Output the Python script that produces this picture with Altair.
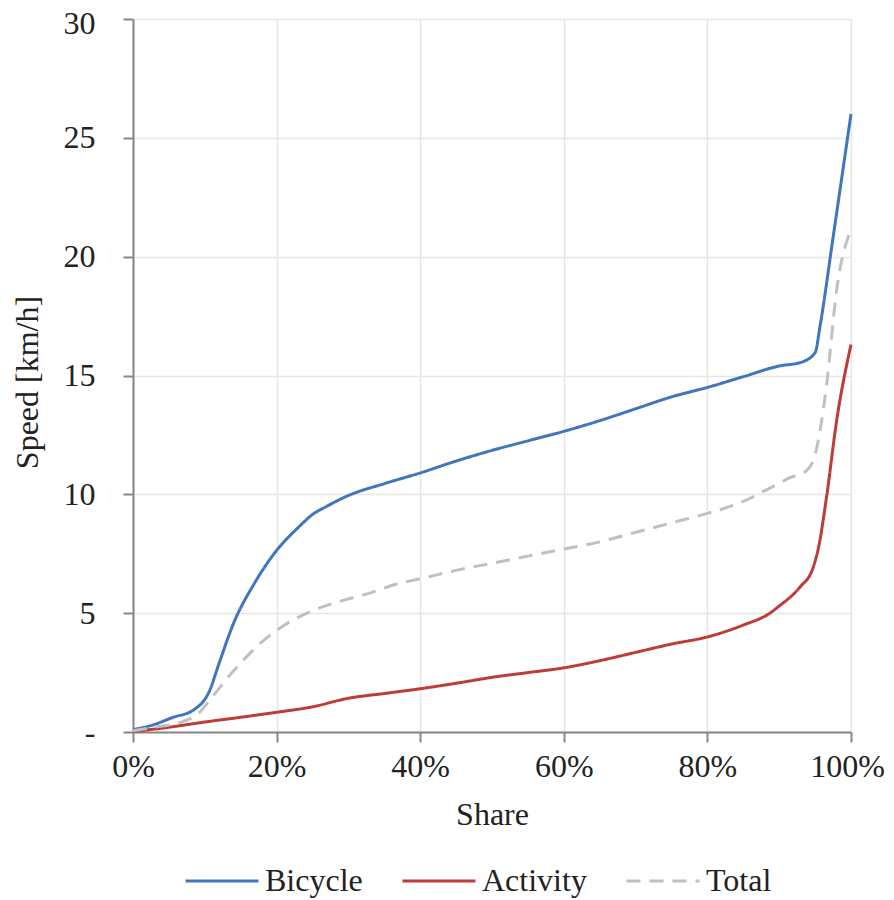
import altair as alt
import pandas as pd

series_names = ["Bicycle", "Activity", "Total"]
series_colors = ["#4076BD", "#BE3B36", "#C0C0C0"]

bicycle_share = [0, 0.028, 0.056, 0.084, 0.107, 0.12, 0.14, 0.17, 0.20, 0.23, 0.25, 0.27, 0.30,
                 0.35, 0.40, 0.45, 0.50, 0.55, 0.60, 0.65, 0.70, 0.75, 0.80, 0.85, 0.90,
                 0.93, 0.95, 0.957, 0.975, 1.0]
bicycle_speed = [0.1, 0.3, 0.62, 0.92, 1.76, 2.9, 4.57, 6.3, 7.64, 8.6, 9.15, 9.5, 9.95,
                 10.45, 10.9, 11.4, 11.85, 12.25, 12.65, 13.1, 13.6, 14.1, 14.5, 14.95, 15.4,
                 15.55, 15.96, 17.1, 20.8, 26.0]

activity_share = [0, 0.05, 0.10, 0.15, 0.20, 0.25, 0.30, 0.35, 0.40, 0.45, 0.50, 0.55, 0.60,
                  0.65, 0.70, 0.75, 0.80, 0.85, 0.887, 0.90, 0.929, 0.947, 0.955, 0.966,
                  0.98, 1.0]
activity_speed = [0.02, 0.2, 0.42, 0.62, 0.83, 1.06, 1.42, 1.62, 1.82, 2.05, 2.3, 2.5, 2.7,
                  3.0, 3.35, 3.7, 4.0, 4.5, 5.0, 5.3, 6.1, 6.9, 7.8, 9.9, 13.1, 16.3]

total_share = [0, 0.03, 0.07, 0.09, 0.111, 0.135, 0.158, 0.18, 0.20, 0.25, 0.30, 0.325, 0.37,
               0.40, 0.45, 0.50, 0.55, 0.60, 0.65, 0.70, 0.75, 0.80, 0.85, 0.883, 0.915,
               0.938, 0.95, 0.966, 0.98, 1.0]
total_speed = [0.05, 0.2, 0.45, 0.75, 1.5, 2.4, 3.16, 3.8, 4.28, 5.1, 5.6, 5.8, 6.25,
               6.45, 6.8, 7.1, 7.4, 7.7, 8.0, 8.4, 8.8, 9.2, 9.7, 10.2, 10.7,
               11.0, 11.67, 14.6, 18.6, 21.15]

x_ticks = [0, 0.2, 0.4, 0.6, 0.8, 1.0]
y_ticks = [0, 5, 10, 15, 20, 25, 30]

rows = []
for name, xs, ys in [("Bicycle", bicycle_share, bicycle_speed),
                     ("Activity", activity_share, activity_speed),
                     ("Total", total_share, total_speed)]:
    for i, (a, b) in enumerate(zip(xs, ys)):
        rows.append({"series": name, "share": a, "speed": b, "order": i})
df = pd.DataFrame(rows)

FONT = "Liberation Serif"

legend_opts = dict(title=None, orient="none", direction="horizontal",
                   legendX=51, legendY=824, symbolType="stroke",
                   symbolSize=5329, symbolStrokeWidth=3,
                   labelOffset=5, columnPadding=33, padding=0)

chart = alt.Chart(df).mark_line(strokeWidth=3, interpolate="monotone").encode(
    x=alt.X("share:Q",
            scale=alt.Scale(domain=[0, 1], nice=False),
            axis=alt.Axis(title="Share", values=x_ticks, format=".0%",
                          labelPadding=9, tickSize=10, titleY=92, labelFlush=False,
                          labelOffset={"condition": {"test": "datum.value == 1", "value": -4},
                                       "value": 0},
                          titleBaseline="alphabetic")),
    y=alt.Y("speed:Q",
            scale=alt.Scale(domain=[0, 30], nice=False),
            axis=alt.Axis(title="Speed [km/h]", values=y_ticks,
                          labelExpr="datum.value == 0 ? '-' : datum.label",
                          labelOffset={"condition": {"test": "datum.value == 30", "value": 4},
                                       "value": 0},
                          labelPadding=28, tickSize=10, titleX=-106, titleY=363,
                          titleBaseline="middle")),
    color=alt.Color("series:N",
                    scale=alt.Scale(domain=series_names, range=series_colors),
                    sort=series_names,
                    legend=alt.Legend(**legend_opts)),
    strokeDash=alt.StrokeDash("series:N",
                              scale=alt.Scale(domain=series_names,
                                              range=[[1, 0], [1, 0], [14, 9]]),
                              sort=series_names,
                              legend=alt.Legend(**legend_opts)),
    order="order:Q",
).properties(
    width=718, height=713,
    autosize=alt.AutoSizeParams(type="none"),
    padding={"left": 125, "top": 11, "right": 35, "bottom": 166},
).configure_view(stroke=None).configure_axis(
    labelFont=FONT, titleFont=FONT, labelFontSize=32, titleFontSize=32,
    labelColor="#222222", titleColor="#222222", titleFontWeight="normal",
    domainColor="#868686", domainWidth=2, tickColor="#868686", tickWidth=2,
    gridColor="#E6E6E6", gridWidth=1.5,
).configure_legend(
    labelFont=FONT, labelFontSize=32, labelColor="#222222",
)

chart.save("out.html", embed_options={"renderer": "svg", "actions": False})
